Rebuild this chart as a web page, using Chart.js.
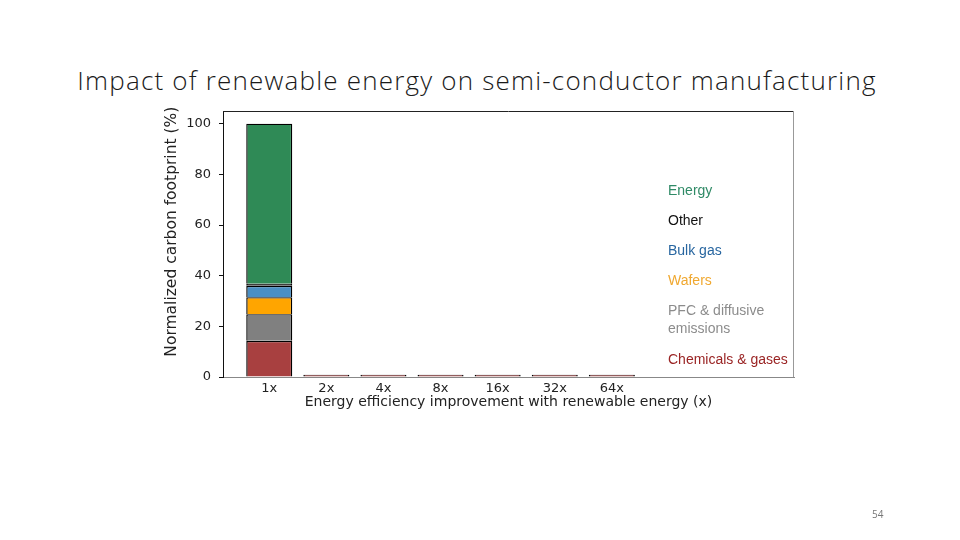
<!DOCTYPE html>
<html>
<head>
<meta charset="utf-8">
<script src="https://cdn.jsdelivr.net/npm/chart.js@4.4.1/dist/chart.umd.min.js"></script>
<style>
  body { margin: 0; background: #fff; }
  #wrap { position: relative; width: 960px; height: 540px; overflow: hidden; }
  #title { position: absolute; left: 0; width: 954px; top: 62px; text-align: center;
           font-family: "Open Sans", sans-serif; font-weight: 300; font-size: 26px;
           letter-spacing: 1.2px; color: #1a1a1a; }
  #page { position: absolute; left: 872px; top: 507px; font-family: "Open Sans", sans-serif;
          font-size: 10px; color: #777; }
  canvas { position: absolute; left: 0; top: 0; }
</style>
</head>
<body>
<div id="wrap">
  <div id="title">Impact of renewable energy on semi-conductor manufacturing</div>
  <canvas id="chart" width="960" height="540"></canvas>
  <div id="page">54</div>
</div>
<script>
const categories = ['1x', '2x', '4x', '8x', '16x', '32x', '64x'];
const chemicals = [14.3, 0.9, 0.9, 0.9, 0.9, 0.9, 0.9];
const pfc       = [10.5, null, null, null, null, null, null];
const wafers    = [6.7, null, null, null, null, null, null];
const bulkGas   = [4.5, null, null, null, null, null, null];
const other     = [0.8, null, null, null, null, null, null];
const energy    = [63.2, null, null, null, null, null, null];
const yTicks = [0, 20, 40, 60, 80, 100];

function series(label, values, fill, text) {
    return {
        label: label,
        data: categories.map((c, i) => ({ x: i, y: values[i] })),
        backgroundColor: fill,
        borderColor: '#000',
        borderWidth: 1.4,
        textColor: text,
        barPercentage: 0.806,
        categoryPercentage: 1
    };
}

// legend written as coloured text inside the plot, plus the top/right frame
const sideLegend = {
    id: 'sideLegend',
    afterDraw(chart) {
        const ctx = chart.ctx, a = chart.chartArea;
        ctx.save();
        ctx.lineWidth = 1;
        ctx.strokeStyle = '#222';
        ctx.beginPath(); ctx.moveTo(a.left, a.top + 0.5); ctx.lineTo(a.right, a.top + 0.5); ctx.stroke();
        ctx.strokeStyle = '#999';
        ctx.beginPath(); ctx.moveTo(a.right - 0.5, a.top); ctx.lineTo(a.right - 0.5, a.bottom); ctx.stroke();
        ctx.font = '14px "Liberation Sans", Arial, sans-serif';
        ctx.textBaseline = 'middle';
        const rows = [80, 110, 140, 170, 200, 249];
        const order = chart.data.datasets.slice().reverse();
        order.forEach((ds, i) => {
            ctx.fillStyle = ds.textColor;
            const lines = ds.label.split('\n');
            lines.forEach((t, j) => ctx.fillText(t, a.left + 445, a.top + rows[i] + j * 18));
        });
        ctx.restore();
    }
};

new Chart(document.getElementById('chart').getContext('2d'), {
    type: 'bar',
    data: {
        datasets: [
            series('Chemicals & gases', chemicals, '#a84040', '#9a2424'),
            series('PFC & diffusive\nemissions', pfc, '#808080', '#8c8c8c'),
            series('Wafers', wafers, '#ffa500', '#f0a830'),
            series('Bulk gas', bulkGas, '#4a8fc4', '#2866a0'),
            series('Other', other, '#3a3a3a', '#111111'),
            series('Energy', energy, '#2f8a56', '#2f8a66')
        ]
    },
    options: {
        responsive: false,
        animation: false,
        layout: { padding: { left: 150, top: 111, right: 166, bottom: 123 } },
        plugins: { legend: { display: false }, tooltip: { enabled: false } },
        scales: {
            x: {
                type: 'linear',
                stacked: true,
                offset: false,
                min: -0.81,
                max: 9.19,
                afterFit: axis => { axis.height = 40; },
                afterBuildTicks: axis => { axis.ticks = categories.map((c, i) => ({ value: i })); },
                grid: { display: false, drawTicks: false },
                border: { display: true, color: '#888', width: 1 },
                ticks: {
                    autoSkip: false, maxRotation: 0, padding: 4, color: '#222',
                    font: { family: '"DejaVu Sans", sans-serif', size: 13 },
                    callback: v => categories[Math.round(v)] || ''
                },
                title: {
                    display: true, text: 'Energy efficiency improvement with renewable energy (x)',
                    color: '#222', padding: { top: 0, bottom: 6 },
                    font: { family: '"DejaVu Sans", sans-serif', size: 14 }
                }
            },
            y: {
                stacked: true,
                min: 0,
                max: 105,
                afterFit: axis => { axis.width = 73; },
                afterBuildTicks: axis => { axis.ticks = yTicks.map(v => ({ value: v })); },
                grid: { drawOnChartArea: false, drawTicks: true, tickLength: 4, color: '#111' },
                border: { display: true, color: '#111', width: 1 },
                ticks: {
                    padding: 8, color: '#222',
                    font: { family: '"DejaVu Sans", sans-serif', size: 13 }
                },
                title: {
                    display: true, text: '\u00a0\u00a0\u00a0\u00a0\u00a0Normalized carbon footprint (%)',
                    color: '#222', padding: { top: 13, bottom: 0 },
                    font: { family: '"DejaVu Sans", sans-serif', size: 15.5 }
                }
            }
        }
    },
    plugins: [sideLegend]
});
</script>
</body>
</html>
